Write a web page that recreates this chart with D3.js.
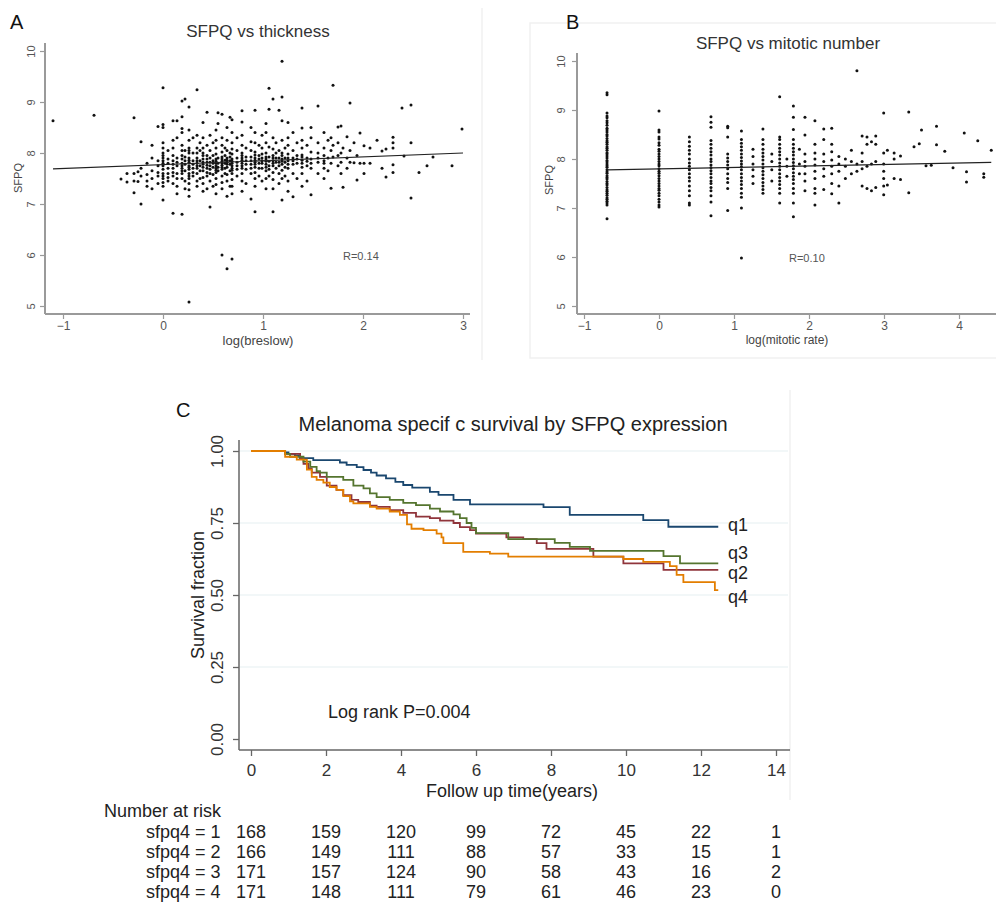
<!DOCTYPE html>
<html><head><meta charset="utf-8">
<script src="https://cdn.jsdelivr.net/npm/d3@7"></script>
<style>body{margin:0;background:#fff}svg{display:block;font-family:"Liberation Sans",Arial,sans-serif}</style>
</head><body><svg id="c" width="996" height="906"></svg>
<script>
// ---------- Panel A data: log(breslow) columns and SFPQ values ----------
const breslowX = [-1.1,-0.69,-0.42,-0.36,-0.29,-0.25,-0.22,-0.16,-0.11,-0.05,0,0.05,0.1,0.14,0.19,0.22,0.26,0.3,0.34,0.37,0.4,0.44,0.47,0.5,0.53,0.55,0.59,0.62,0.64,0.67,0.69,0.74,0.79,0.83,0.88,0.92,0.96,0.99,1.03,1.06,1.1,1.13,1.16,1.19,1.22,1.25,1.3,1.34,1.39,1.44,1.48,1.55,1.61,1.65,1.68,1.7,1.75,1.78,1.8,1.84,1.87,1.91,1.94,1.97,2.01,2.07,2.14,2.19,2.23,2.3,2.39,2.41,2.48,2.56,2.64,2.7,2.89,2.99];
const breslowY = [
 [8.63],[8.74],[7.49],[7.43,7.6],[7.22,7.45,7.6,8.69],[7.63,7.44],[7.0,7.55,8.22,7.7],[7.45,7.8,7.35,7.58],[8.15,7.65,7.3,7.9,7.5],[8.52,7.75,7.55,7.4,7.85,7.62],
 [9.28,8.56,8.5,8.2,8.0,7.9,7.85,7.75,7.6,7.5,7.35,7.08,7.95,7.8,7.68,7.55,7.42,8.1],
 [7.8,7.6,7.45,8.05,7.7,7.88,7.52],
 [8.63,7.95,7.85,7.7,7.55,7.4,6.82,8.1,7.78,7.62,8.25],
 [8.63,7.9,7.75,7.6,7.35,8.3,7.2,7.82,7.5],
 [9.02,8.71,8.48,8.4,8.15,7.95,7.8,7.7,7.5,6.8,7.6,7.88,7.75,7.65,8.05],
 [9.06,8.05,7.85,7.65,7.45,7.3,7.78,7.92],
 [8.9,8.45,8.25,8.1,8.0,7.9,7.82,7.75,7.68,7.6,7.5,7.4,7.28,5.08,7.15,7.86,7.72,7.55,8.05],
 [8.0,7.85,7.7,7.55,8.3,7.78,7.62],
 [9.24,8.35,8.1,7.9,7.8,7.7,7.6,7.45,7.35,7.85,7.75,8.0],
 [8.05,7.75,7.5,8.2,7.85,7.65],
 [8.6,8.3,8.1,8.0,7.88,7.78,7.65,7.52,7.4,7.25,7.82,7.72,7.95],
 [8.8,8.15,7.95,7.82,7.7,7.55,7.3,7.88,7.76,7.62],
 [8.35,8.05,7.9,7.75,7.6,7.45,6.94,7.82,7.68],
 [8.2,7.85,7.72,7.58,7.35,7.8,7.95],
 [8.45,8.25,8.1,7.98,7.88,7.8,7.7,7.62,7.5,7.38,7.2,7.84,7.75,7.66],
 [8.58,8.79,7.9,7.65,7.8,7.72],
 [8.76,8.3,8.15,8.02,7.92,7.84,7.76,7.68,7.55,7.42,7.3,6.0,7.88,7.8,7.72],
 [8.1,7.95,7.8,7.6,7.86,7.7],
 [8.5,8.25,8.05,7.9,7.82,7.72,7.58,7.45,5.73,7.15,7.86,7.78],
 [8.7,8.0,7.85,7.65,7.35,7.78,7.92],
 [8.65,8.4,8.2,8.08,7.98,7.88,7.8,7.7,7.6,7.48,7.35,7.2,5.92,7.84,7.75,7.66],
 [8.3,8.05,7.9,7.75,7.55,7.82,7.68],
 [8.83,8.61,8.35,8.15,8.0,7.9,7.8,7.7,7.6,7.45,7.25,7.86,7.75,7.95],
 [8.1,7.85,7.68,7.4,7.78,7.92],
 [8.5,8.22,8.05,7.92,7.78,7.6,7.1,7.85,7.7],
 [8.84,8.4,8.2,8.02,7.9,7.82,7.72,7.62,7.5,7.35,6.85,7.86,7.78,7.96],
 [8.15,7.95,7.8,7.55,7.88,7.7],
 [8.35,8.1,7.98,7.85,7.7,7.45,7.8,7.9],
 [8.58,8.4,8.2,8.0,7.88,7.78,7.65,7.5,7.3,7.84,7.92,7.72],
 [9.27,8.86,8.12,7.92,7.75,7.55,7.84,7.68],
 [9.06,8.3,8.08,7.95,7.85,7.75,7.62,7.48,6.85,7.3,7.9,7.8],
 [8.2,7.9,7.7,7.82,8.0],
 [8.84,8.05,7.82,7.6,7.4,7.9,7.75],
 [9.8,9.1,8.63,8.25,8.0,7.88,7.78,7.66,7.08,7.5,7.84,7.95],
 [8.1,7.9,7.72,7.55,7.82],
 [8.6,8.3,8.15,7.98,7.85,7.7,7.45,7.25,7.9,7.78],
 [8.4,8.05,7.9,7.78,7.6,7.14,7.85],
 [8.2,7.95,7.8,7.5,7.88],
 [8.88,8.49,8.25,8.1,7.96,7.86,7.72,7.6,7.35,7.8,7.92],
 [8.15,7.9,7.75,7.45,7.84],
 [8.5,8.3,8.02,7.88,7.7,7.18,7.8],
 [8.92,8.2,8.0,7.82,7.6,7.9],
 [8.4,8.1,7.95,7.85,7.7,7.5,7.8],
 [8.25,7.9,7.65],
 [8.3,8.05,7.8,7.31],
 [9.33,8.15,7.92],
 [8.51,8.2,7.95,7.75],
 [8.53,8.0,7.82,7.6],
 [8.1,7.33],
 [8.32,7.9,7.7],
 [8.98,8.05,7.82],
 [7.81,8.2],[7.47,7.95],[8.39,7.8],[8.14,7.8,7.6],[8.1,7.8],[8.25],[8.04,7.7],[7.53,8.08],
 [8.31,8.2,8.1,7.77,7.62],[8.88],[7.94],[8.94,8.2,7.12],[7.62],[7.75],[7.92],[7.75],[8.47]
];
const fitAx = [-1.1, 3.0], fitAy = [7.69, 8.0];

// ---------- Panel B data: log(mitotic rate) columns and SFPQ values ----------
const mitoticX = [-0.693,0,0.405,0.693,0.916,1.099,1.253,1.386,1.504,1.609,1.705,1.792,1.872,1.946,2.079,2.197,2.303,2.398,2.485,2.565,2.639,2.708,2.773,2.833,2.89,2.996,3.045,3.135,3.22,3.33,3.4,3.47,3.5,3.56,3.63,3.7,3.81,3.92,4.07,4.1,4.25,4.33,4.43];
const mitoticY = [
 [9.35,9.31,8.94,8.88,8.84,8.78,8.74,8.69,8.63,8.59,8.55,8.5,8.47,8.42,8.37,8.34,8.3,8.25,8.22,8.18,8.13,8.1,8.06,8.02,7.97,7.94,7.9,7.86,7.83,7.78,7.74,7.71,7.66,7.62,7.59,7.54,7.5,7.47,7.42,7.37,7.34,7.3,7.26,7.21,7.18,7.14,7.1,7.06,6.78],
 [8.98,8.59,8.55,8.45,8.41,8.33,8.28,8.2,8.16,8.1,8.05,8.0,7.95,7.9,7.86,7.8,7.75,7.71,7.66,7.6,7.55,7.5,7.45,7.4,7.36,7.3,7.25,7.18,7.12,7.06,7.02],
 [8.45,8.35,8.26,8.18,8.1,8.0,7.92,7.85,7.78,7.7,7.62,7.55,7.45,7.35,7.25,7.1,7.06],
 [8.86,8.75,8.65,8.38,8.3,8.22,8.15,8.08,8.0,7.95,7.88,7.82,7.76,7.7,7.62,7.55,7.5,7.42,7.35,7.25,7.12,6.84],
 [8.67,8.64,8.45,8.1,8.02,7.95,7.88,7.8,7.7,7.6,7.52,7.4,6.95],
 [8.57,8.4,8.32,8.25,8.18,8.1,8.03,7.96,7.9,7.84,7.78,7.7,7.62,7.55,7.48,7.4,7.3,7.22,7.0,5.98],
 [8.2,8.05,7.9,7.78,7.65,7.5],
 [8.61,8.4,8.3,8.2,8.12,8.05,7.98,7.9,7.82,7.75,7.68,7.6,7.52,7.45,7.38,7.3],
 [8.1,7.95,7.78,7.55],
 [9.27,8.45,8.4,8.3,8.22,8.15,8.08,8.0,7.92,7.85,7.78,7.7,7.62,7.55,7.48,7.4,7.3,7.1],
 [8.0,7.85,7.65],
 [9.08,8.85,8.6,8.4,8.3,8.22,8.15,8.08,8.0,7.93,7.86,7.8,7.72,7.65,7.58,7.5,7.4,7.3,7.1,6.82],
 [8.2,7.9,7.7],
 [8.85,8.49,8.1,7.95,7.85,7.7,7.55,7.35],
 [8.78,8.3,8.12,8.0,7.88,7.75,7.6,7.4,7.3,7.06],
 [8.61,8.4,8.1,7.95,7.8,7.65,7.38],
 [8.63,8.3,8.15,7.98,7.85,7.7,7.5,7.29],
 [8.05,7.9,7.75,7.45,7.1],
 [8.0,7.85,7.6],
 [8.18,7.95,7.7],
 [9.8,7.9,7.75],
 [8.47,8.12,7.95,7.8,7.45],
 [8.45,8.3,7.85,7.4],
 [8.35,7.9,7.35],
 [8.47,8.3,7.95,7.42],
 [8.94,8.12,7.9,7.75,7.6,7.45,7.27],
 [8.18,7.47],[8.12,8.0,7.6],[8.06,7.58],[8.96,7.31],[8.25],[8.31],[8.59],[7.86],[7.87],[8.67,8.29],[8.16],[7.82],[8.53],[7.74,7.53],[8.37],[7.7,7.63],[8.18]
];
const fitBx = [-0.69, 4.43], fitBy = [7.78, 7.93];

// ---------- Panel C data: Kaplan-Meier steps ----------
const q1T = [0,0.91,1.0,1.17,1.3,1.66,2.37,2.55,2.82,3.0,3.2,3.35,3.6,3.85,4.06,4.3,4.77,5.0,5.4,5.84,7.8,8.5,10.46,11.13,12.46];
const q1S = [1,0.995,0.99,0.985,0.975,0.968,0.96,0.952,0.944,0.934,0.925,0.915,0.905,0.893,0.882,0.873,0.858,0.848,0.83,0.815,0.805,0.778,0.76,0.737,0.737];
const q2T = [0,0.91,1.31,1.4,1.53,1.62,1.84,2.02,2.28,2.46,2.68,2.86,3.17,3.35,3.7,4.06,4.4,4.77,5.04,5.4,5.57,5.84,6.0,6.81,7.26,7.62,7.88,9.13,9.93,11.0,12.46];
const q2S = [1,0.99,0.975,0.955,0.94,0.925,0.91,0.88,0.865,0.847,0.83,0.823,0.81,0.806,0.795,0.785,0.772,0.767,0.758,0.75,0.736,0.725,0.713,0.70,0.694,0.68,0.66,0.633,0.61,0.587,0.587];
const q3T = [0,0.91,1.04,1.4,1.58,1.75,1.84,2.02,2.46,2.73,3.0,3.17,3.35,3.7,4.06,4.4,4.77,5.04,5.4,5.57,5.75,5.88,6.0,6.86,8.1,8.5,9.04,11.0,11.44,12.46];
const q3S = [1,0.99,0.98,0.963,0.945,0.93,0.925,0.91,0.9,0.88,0.87,0.853,0.84,0.83,0.82,0.812,0.80,0.79,0.78,0.767,0.75,0.733,0.715,0.694,0.681,0.667,0.653,0.635,0.61,0.61];
const q4T = [0,0.91,1.22,1.49,1.62,1.75,1.93,2.1,2.28,2.46,2.64,2.73,3.17,3.35,3.7,3.97,4.16,4.28,4.6,4.95,5.08,5.13,5.66,6.37,6.86,9.93,10.46,11.17,11.35,11.53,12.37,12.46];
const q4S = [1,0.98,0.97,0.935,0.91,0.9,0.89,0.875,0.865,0.843,0.825,0.818,0.806,0.8,0.79,0.778,0.745,0.73,0.725,0.713,0.70,0.68,0.65,0.644,0.633,0.625,0.615,0.60,0.57,0.545,0.517,0.517];
const groupNames = ["q1","q2","q3","q4"];
const groupColors = ["#1a476f","#90353b","#55752f","#e37e00"];

// ---------- Number at risk ----------
const riskTimes = [0,2,4,6,8,10,12,14];
const riskLabels = ["sfpq4 = 1","sfpq4 = 2","sfpq4 = 3","sfpq4 = 4"];
const risk1 = [168,159,120,99,72,45,22,1];
const risk2 = [166,149,111,88,57,33,15,1];
const risk3 = [171,157,124,90,58,43,16,2];
const risk4 = [171,148,111,79,61,46,23,0];

const svg = d3.select("#c");
const faint = "#f1f1f1";

svg.append("line").attr("x1",482).attr("x2",482).attr("y1",8).attr("y2",360).attr("stroke",faint).attr("stroke-width",1.5);
svg.append("rect").attr("x",530).attr("y",23).attr("width",470).attr("height",335).attr("fill","none").attr("stroke",faint).attr("stroke-width",1.5);
svg.append("line").attr("x1",790).attr("x2",790).attr("y1",390).attr("y2",800).attr("stroke",faint).attr("stroke-width",1.5);

function scatterPanel(o){
  const g = svg.append("g");
  const x = d3.scaleLinear().domain([-1, o.xmaxTick]).range([o.xm1, o.xm1 + o.xStep*(o.xmaxTick+1)]);
  const y = d3.scaleLinear().domain([5,10]).range([o.y5, o.y10]);
  const axCol = "#9a9a9a";
  g.append("line").attr("x1",o.axX).attr("x2",o.axX).attr("y1",o.axTop).attr("y2",o.axY).attr("stroke",axCol).attr("stroke-width",2);
  g.append("line").attr("x1",o.axX).attr("x2",o.axRight).attr("y1",o.axY).attr("y2",o.axY).attr("stroke",axCol).attr("stroke-width",2);
  const ya = g.append("g").attr("transform",`translate(${o.axX},0)`)
    .call(d3.axisLeft(y).tickValues([5,6,7,8,9,10]).tickSize(5).tickFormat(d3.format("d")));
  ya.select(".domain").remove();
  ya.selectAll("line").attr("stroke",axCol).attr("stroke-width",1.2);
  ya.selectAll("text").attr("transform","rotate(-90)").attr("x",0).attr("y",o.yLabOff).attr("dy",0)
    .attr("text-anchor","middle").attr("fill","#555").style("font-size","11px").style("font-family","Liberation Sans, Arial");
  const xa = g.append("g").attr("transform",`translate(0,${o.axY})`)
    .call(d3.axisBottom(x).tickValues(d3.range(-1,o.xmaxTick+1)).tickSize(5).tickFormat(d3.format("d")));
  xa.select(".domain").remove();
  xa.selectAll("line").attr("stroke",axCol).attr("stroke-width",1.2);
  xa.selectAll("text").attr("y",16).attr("dy",0).attr("fill","#555").style("font-size","12px").style("font-family","Liberation Sans, Arial");
  const pts = o.X.flatMap((xv,i)=>o.Y[i].map(yv=>[xv,yv]));
  g.append("g").selectAll("circle").data(pts).join("circle")
    .attr("cx",d=>x(d[0])).attr("cy",d=>y(d[1])).attr("r",1.5).attr("fill","#111");
  g.append("line").attr("x1",x(o.fx[0])).attr("x2",x(o.fx[1])).attr("y1",y(o.fy[0])).attr("y2",y(o.fy[1]))
    .attr("stroke","#222").attr("stroke-width",1.2);
  g.append("text").attr("x",o.titleX).attr("y",o.titleY).attr("text-anchor","middle").attr("fill","#333").style("font-size","17px").text(o.title);
  g.append("text").attr("x",o.xlabX).attr("y",o.xlabY).attr("text-anchor","middle").attr("fill","#444").style("font-size",o.xlabSize).text(o.xlab);
  g.append("text").attr("transform",`translate(${o.ylabX},${o.ylabY}) rotate(-90)`).attr("text-anchor","middle").attr("fill","#444").style("font-size","11px").text("SFPQ");
  g.append("text").attr("x",o.rX).attr("y",o.rY).attr("fill","#555").style("font-size","11px").text(o.rText);
  g.append("text").attr("x",o.letterX).attr("y",o.letterY).attr("fill","#111").style("font-size","20px").text(o.letter);
}

scatterPanel({X:breslowX,Y:breslowY,fx:fitAx,fy:fitAy,xmaxTick:3,xm1:63,xStep:100,y5:306,y10:51,
  axX:45,axY:314,axTop:43,axRight:470,yLabOff:-10,title:"SFPQ vs thickness",titleX:258,titleY:37,
  xlab:"log(breslow)",xlabSize:"13px",xlabX:258,xlabY:345,ylabX:22,ylabY:178,rText:"R=0.14",rX:343,rY:260,letter:"A",letterX:10,letterY:29});
scatterPanel({X:mitoticX,Y:mitoticY,fx:fitBx,fy:fitBy,xmaxTick:4,xm1:584,xStep:75,y5:306,y10:61,
  axX:577,axY:314,axTop:53,axRight:996,yLabOff:-12,title:"SFPQ vs mitotic number",titleX:788,titleY:49,
  xlab:"log(mitotic rate)",xlabSize:"12px",xlabX:787,xlabY:344,ylabX:553,ylabY:180,rText:"R=0.10",rX:789,rY:262,letter:"B",letterX:566,letterY:29});

// ---------- Panel C ----------
const gc = svg.append("g");
const xC = d3.scaleLinear().domain([0,14]).range([251,776]);
const yC = d3.scaleLinear().domain([0,1]).range([739,451]);
const axC = "#666";
gc.append("g").selectAll("line").data([0.25,0.5,0.75,1]).join("line")
  .attr("x1",240).attr("x2",788).attr("y1",d=>yC(d)).attr("y2",d=>yC(d)).attr("stroke","#e6eff1").attr("stroke-width",1.2);
gc.append("line").attr("x1",239).attr("x2",239).attr("y1",440).attr("y2",750).attr("stroke",axC).attr("stroke-width",1.5);
gc.append("line").attr("x1",239).attr("x2",790).attr("y1",750).attr("y2",750).attr("stroke",axC).attr("stroke-width",1.5);
const yaC = gc.append("g").attr("transform","translate(239,0)")
  .call(d3.axisLeft(yC).tickValues([0,0.25,0.5,0.75,1]).tickSize(6).tickFormat(d3.format(".2f")));
yaC.select(".domain").remove();
yaC.selectAll("line").attr("stroke",axC).attr("stroke-width",1.3);
yaC.selectAll("text").attr("transform","rotate(-90)").attr("x",0).attr("y",-16).attr("dy",0)
  .attr("text-anchor","middle").attr("fill","#333").style("font-size","17px").style("font-family","Liberation Sans, Arial");
const xaC = gc.append("g").attr("transform","translate(0,750)")
  .call(d3.axisBottom(xC).tickValues(d3.range(0,15,2)).tickSize(6).tickFormat(d3.format("d")));
xaC.select(".domain").remove();
xaC.selectAll("line").attr("stroke",axC).attr("stroke-width",1.3);
xaC.selectAll("text").attr("y",26).attr("dy",0).attr("fill","#333").style("font-size","17px").style("font-family","Liberation Sans, Arial");

const curves = [[q1T,q1S],[q2T,q2S],[q3T,q3S],[q4T,q4S]];
const line = d3.line().x(d=>xC(d[0])).y(d=>yC(d[1])).curve(d3.curveStepAfter);
[0,1,2,3].forEach(i=>{
  const pts = curves[i][0].map((t,k)=>[t,curves[i][1][k]]);
  gc.append("path").attr("d",line(pts)).attr("fill","none").attr("stroke",groupColors[i]).attr("stroke-width",1.8);
});
const qLabY = [525,573,553,597];
groupNames.forEach((n,i)=>{
  gc.append("text").attr("x",728).attr("y",qLabY[i]+6).attr("fill","#222").style("font-size","18px").text(n);
});
gc.append("text").attr("x",513).attr("y",431).attr("text-anchor","middle").attr("fill","#222").style("font-size","20px")
  .text("Melanoma specif c survival by SFPQ expression");
gc.append("text").attr("x",176).attr("y",417).attr("fill","#111").style("font-size","20px").text("C");
gc.append("text").attr("transform","translate(204,595) rotate(-90)").attr("text-anchor","middle").attr("fill","#222").style("font-size","18px").text("Survival fraction");
gc.append("text").attr("x",512).attr("y",797).attr("text-anchor","middle").attr("fill","#222").style("font-size","18px").text("Follow up time(years)");
gc.append("text").attr("x",328).attr("y",718).attr("fill","#222").style("font-size","18px").text("Log rank P=0.004");

const tf = "Liberation Sans, Arial";
gc.append("text").attr("x",104).attr("y",817).attr("fill","#222").style("font-size","18px").style("font-family",tf).text("Number at risk");
const riskRows = [risk1,risk2,risk3,risk4];
riskRows.forEach((row,i)=>{
  const yy = 838 + i*20;
  gc.append("text").attr("x",146).attr("y",yy).attr("fill","#222").style("font-size","18px").style("font-family",tf).text(riskLabels[i]);
  gc.append("g").selectAll("text").data(row).join("text")
    .attr("x",(d,k)=>xC(riskTimes[k])).attr("y",yy).attr("text-anchor","middle").attr("fill","#222")
    .style("font-size","18px").style("font-family",tf).text(d=>d);
});
</script></body></html>
